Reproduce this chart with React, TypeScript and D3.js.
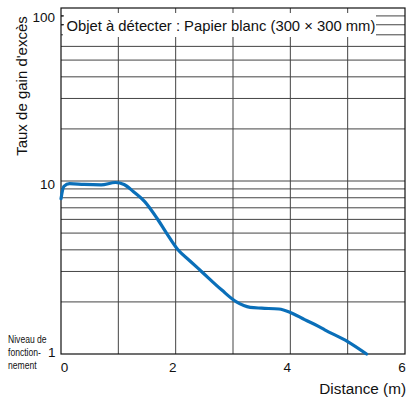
import React from "react";
import * as d3 from "d3";

const distances = [0, 0.05, 0.15, 0.4, 0.7, 0.95, 1.1, 1.26, 1.46, 1.68, 1.84, 2.04, 2.25, 2.45, 2.8, 3.06, 3.3, 3.5, 3.8, 4.0, 4.25, 4.5, 4.6, 5.0, 5.33];
const gains = [7.9, 9.3, 9.65, 9.55, 9.5, 9.8, 9.55, 8.7, 7.6, 6.05, 5.0, 4.0, 3.45, 3.0, 2.35, 2.0, 1.86, 1.84, 1.82, 1.74, 1.58, 1.44, 1.38, 1.18, 1.0];
const xTicks = [0, 2, 4, 6];
const xGrid = [1, 2, 3, 4, 5];
const yTicks = [1, 10, 100];
const yGrid = [2, 3, 4, 5, 6, 7, 8, 9, 10, 20, 30, 40, 50, 60, 70, 80, 90];
const niveauLines = ["Niveau de", "fonction-", "nement"];
const titleText = "Objet à détecter : Papier blanc (300 × 300 mm)";
const yTitle = "Taux de gain d'excès";
const xTitle = "Distance (m)";

const W = 408, H = 400;
const left = 61, right = 405, top = 8, bottom = 354;

export default function App() {
  const x = d3.scaleLinear().domain([0, 6]).range([left, right]);
  const y = d3.scaleLog().domain([1, 100]).range([bottom, top]);
  const pts: [number, number][] = distances.map((d, i) => [d, gains[i]]);
  const line = d3.line<[number, number]>().x(d => x(d[0])).y(d => y(d[1])).curve(d3.curveMonotoneX);
  const font = "'Liberation Sans', Arial, Helvetica, sans-serif";
  const gridColor = "#444";
  return (
    <svg width={W} height={H} style={{ position: "absolute", left: 0, top: 0, background: "#fff" }} fontFamily={font}>
      {yGrid.map(v => (
        <line key={"h" + v} x1={left} x2={right} y1={y(v)} y2={y(v)} stroke={gridColor} strokeWidth={1} />
      ))}
      {xGrid.map(v => (
        <line key={"v" + v} x1={x(v)} x2={x(v)} y1={top} y2={bottom} stroke={gridColor} strokeWidth={1} />
      ))}
      <rect x={63} y={13} width={313} height={24} fill="#fff" />
      <text x={66.5} y={30.5} fontSize={14.8} fill="#111">{titleText}</text>
      <rect x={left} y={top} width={right - left} height={bottom - top} fill="none" stroke="#111" strokeWidth={1.2} />
      {[90, 80].map(v => (
        <line key={"t" + v} x1={left} x2={left + 3} y1={y(v)} y2={y(v)} stroke="#111" strokeWidth={1} />
      ))}
      <path d={line(pts) || ""} fill="none" stroke="#0a6fb9" strokeWidth={3.2} strokeLinecap="round" strokeLinejoin="round" />
      {yTicks.map(v => (
        <text key={"yl" + v} x={v === 1 ? 55.5 : 55} y={Math.min(Math.max(y(v) + 3, 17), 352.5)} fontSize={13.5} textAnchor="end" dominantBaseline="central" fill="#111">{v}</text>
      ))}
      {xTicks.map(v => (
        <text key={"xl" + v} x={x(v) + (v === 0 ? 3.5 : -3)} y={372} fontSize={13.5} textAnchor="middle" fill="#111">{v}</text>
      ))}
      <g transform="translate(8,0) scale(0.78,1)">
        {niveauLines.map((t, i) => (
          <text key={"n" + i} x={0} y={343.5 + i * 13} fontSize={11} fill="#111">{t}</text>
        ))}
      </g>
      <text transform={`translate(26.5, 86) rotate(-90)`} fontSize={15} textAnchor="middle" fill="#111">{yTitle}</text>
      <text x={406} y={394} fontSize={15.3} textAnchor="end" fill="#111">{xTitle}</text>
    </svg>
  );
}
